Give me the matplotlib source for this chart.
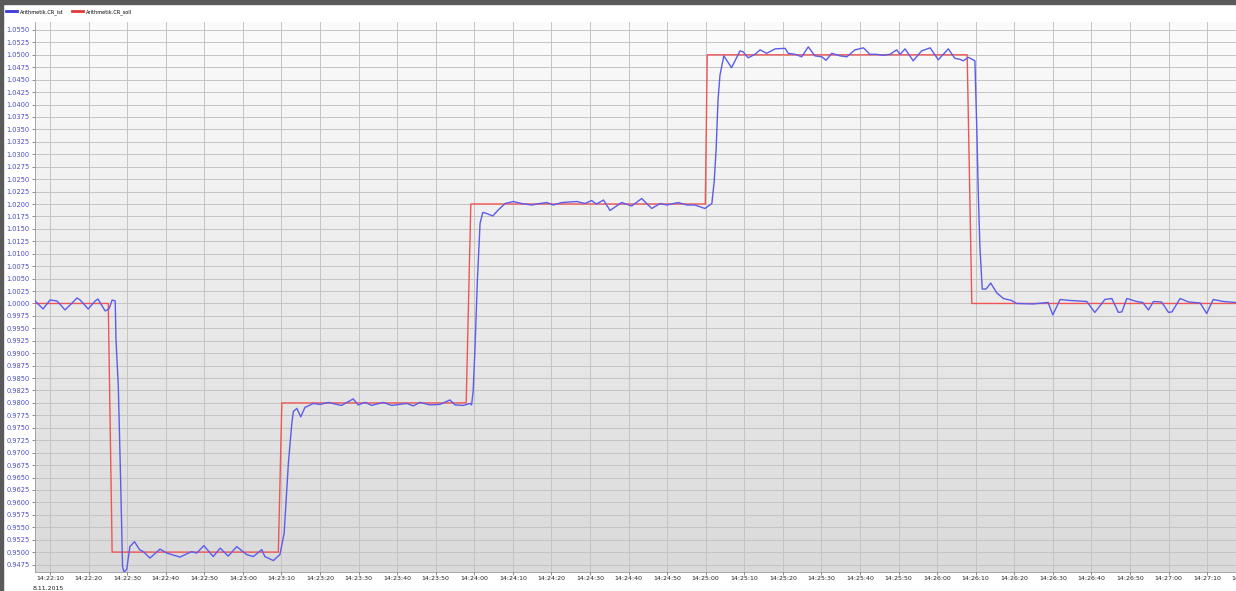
import numpy as np
import matplotlib
matplotlib.use("Agg")
import matplotlib.pyplot as plt
from matplotlib.lines import Line2D
from matplotlib.colors import LinearSegmentedColormap

# ---- data (seconds after 14:22:00) ----
ist_t = [6.1, 8.2, 10.0, 11.8, 13.9, 17.0, 17.8, 19.9, 21.7, 22.4, 24.3, 25.3, 26.1, 26.9,
         27.1, 27.7, 28.3, 28.8, 29.2, 29.9, 30.7, 31.9, 33.2, 34.2, 35.9, 38.5, 40.3, 43.7,
         46.7, 48.0, 49.9, 52.3, 54.1, 56.2, 58.4, 61.0, 62.7, 64.9, 65.7, 67.9, 69.6, 70.7,
         71.8, 72.7, 73.1, 74.0, 75.0, 76.1, 78.3, 80.0, 82.2, 84.3, 85.6, 88.6, 89.9, 91.7,
         93.4, 96.4, 98.6, 102.5, 104.2, 105.9, 108.5, 111.1, 113.7, 115.0, 117.2, 118.9,
         119.3, 119.7, 120.2, 120.8, 121.5, 122.2, 123.2, 124.8, 126.2, 128.0, 130.1, 132.3,
         134.9, 137.0, 138.8, 140.5, 142.7, 146.6, 148.7, 150.4, 151.7, 153.5, 155.2, 158.2,
         160.8, 163.4, 166.0, 168.2, 169.9, 172.9, 175.1, 177.2, 179.8, 181.6, 182.2, 182.7,
         183.2, 183.7, 184.7, 186.7, 188.9, 189.7, 191.0, 192.8, 194.1, 195.8, 198.0, 200.6,
         201.4, 203.2, 204.9, 206.6, 208.3, 210.1, 211.2, 212.7, 214.8, 216.6, 218.7, 220.9,
         222.6, 224.3, 226.1, 227.8, 229.5, 230.4, 231.7, 233.8, 236.0, 238.2, 240.3, 242.9,
         244.6, 245.9, 246.8, 248.1, 249.8, 250.3, 250.7, 251.1, 251.7, 252.7, 253.9, 255.5,
         257.2, 259.3, 260.6, 264.9, 268.8, 270.0, 271.9, 274.5, 278.8, 280.9, 283.5, 285.3,
         287.0, 287.9, 289.2, 291.7, 293.3, 294.8, 296.1, 298.2, 300.0, 300.9, 303.0, 305.2,
         308.2, 309.9, 311.6, 314.2, 317.5]
ist_v = [1.0005, 0.9989, 1.0007, 1.0005, 0.9987, 1.0011, 1.0007, 0.9989, 1.0005, 1.0009,
         0.9985, 0.9989, 1.0007, 1.0005, 0.9927, 0.9833, 0.9645, 0.9471, 0.9459, 0.9466,
         0.9511, 0.9521, 0.9505, 0.9501, 0.9488, 0.9506, 0.9498, 0.9490, 0.9501, 0.9498,
         0.9513, 0.9491, 0.9508, 0.9492, 0.9511, 0.9495, 0.9491, 0.9505, 0.9491, 0.9483,
         0.9495, 0.9538, 0.9679, 0.9760, 0.9783, 0.9789, 0.9772, 0.9791, 0.9799, 0.9797,
         0.9801, 0.9797, 0.9795, 0.9808, 0.9796, 0.9801, 0.9795, 0.9801, 0.9795, 0.9799,
         0.9794, 0.9801, 0.9796, 0.9797, 0.9806, 0.9796, 0.9795, 0.9799, 0.9796, 0.9823,
         0.9913, 1.0047, 1.0161, 1.0183, 1.0181, 1.0176, 1.0188, 1.0201, 1.0205, 1.0201,
         1.0198, 1.0201, 1.0203, 1.0198, 1.0203, 1.0205, 1.0201, 1.0207, 1.0200, 1.0208,
         1.0187, 1.0203, 1.0196, 1.0211, 1.0191, 1.0201, 1.0198, 1.0203, 1.0198, 1.0198,
         1.0191, 1.0201, 1.0245, 1.0309, 1.0409, 1.0459, 1.0498, 1.0474, 1.0508, 1.0506,
         1.0494, 1.0501, 1.0510, 1.0503, 1.0512, 1.0513, 1.0503, 1.0501, 1.0496, 1.0516,
         1.0498, 1.0496, 1.0489, 1.0503, 1.0498, 1.0496, 1.0510, 1.0514, 1.0501, 1.0501,
         1.0499, 1.0501, 1.0510, 1.0501, 1.0512, 1.0488, 1.0508, 1.0514, 1.0490, 1.0512,
         1.0493, 1.0491, 1.0488, 1.0495, 1.0488, 1.0349, 1.0215, 1.0114, 1.0029, 1.0029,
         1.0041, 1.0021, 1.0010, 1.0006, 1.0000, 0.9999, 1.0002, 0.9977, 1.0008, 1.0006,
         1.0004, 0.9982, 1.0008, 1.0010, 0.9982, 0.9983, 1.0010, 1.0004, 1.0002, 0.9987,
         1.0004, 1.0003, 0.9982, 0.9983, 1.0010, 1.0003, 1.0001, 0.9980, 1.0008, 1.0004,
         1.0002]

soll_t = [5.0, 25.1, 26.1, 69.2, 70.1, 117.9, 119.1, 179.9, 180.4, 247.8, 249.0, 318.0]
soll_v = [1.00, 1.00, 0.95, 0.95, 0.98, 0.98, 1.02, 1.02, 1.05, 1.05, 1.00, 1.00]

x_tick_pos = list(range(10, 311, 10))
x_tick_labels = ["14:22:10", "14:22:20", "14:22:30", "14:22:40", "14:22:50", "14:23:00",
                 "14:23:10", "14:23:20", "14:23:30", "14:23:40", "14:23:50", "14:24:00",
                 "14:24:10", "14:24:20", "14:24:30", "14:24:40", "14:24:50", "14:25:00",
                 "14:25:10", "14:25:20", "14:25:30", "14:25:40", "14:25:50", "14:26:00",
                 "14:26:10", "14:26:20", "14:26:30", "14:26:40", "14:26:50", "14:27:00",
                 "14:27:10"]
last_tick_label = "14:27:20"
date_label = "8.11.2015"
series_names = ["Arithmetik.CR_ist", "Arithmetik.CR_soll"]

# ---- figure ----
W, H = 1236, 591
fig = plt.figure(figsize=(W / 100, H / 100), dpi=100)
fig.patch.set_facecolor("white")
ax = fig.add_axes([35 / W, 1 - 572 / H, (W - 35) / W, (572 - 22) / H])

# gradient background
grad = np.linspace(0, 1, 256).reshape(-1, 1)
cmap = LinearSegmentedColormap.from_list("bg", ["#fbfbfb", "#dadada"])
ax.imshow(grad, cmap=cmap, aspect="auto", extent=[0, 1, 0, 1],
          transform=ax.transAxes, zorder=0)

FS = 4.5
yt = np.round(np.arange(0.9475, 1.05501, 0.0025), 4)
ax.set_yticks(yt)
ax.set_yticklabels([f"{v:.4f}" for v in yt], fontsize=4.8, color="#4a4ad0")
ax.set_xticks(x_tick_pos)
ax.set_xticklabels(x_tick_labels, fontsize=FS, color="#222222")
ax.tick_params(axis="y", length=2.5, width=0.6, color="#777777", pad=1.5)
ax.tick_params(axis="x", length=2, width=0.6, color="#777777", pad=0.8)

xmin, xmax = 6.1, 317.5
ymin, ymax = 0.94600, 1.05660
ax.set_xlim(xmin, xmax)
ax.set_ylim(ymin, ymax)

ax.grid(True, color="#c4c4c4", linewidth=0.7, zorder=1)
ax.set_axisbelow(False)

ax.plot(soll_t, soll_v, color="#f05555", linewidth=1.0, zorder=3)
ax.plot(ist_t, ist_v, color="#5c5cea", linewidth=1.0, zorder=4)

for s in ["top", "right"]:
    ax.spines[s].set_visible(False)
ax.spines["left"].set_color("#9a9a9a")
ax.spines["bottom"].set_color("#9a9a9a")
ax.spines["left"].set_linewidth(0.6)
ax.spines["bottom"].set_linewidth(0.6)

# last tick label partly cut by the image edge, as in the source screenshot
ax.text(320, -0.0065, last_tick_label, transform=ax.get_xaxis_transform(),
        fontsize=FS, color="#222222", ha="center", va="top", clip_on=False)

fig.text(33 / W, 1 - 590.5 / H, date_label, fontsize=FS, color="#222222",
         va="bottom", ha="left")

# legend above plot
handles = [Line2D([0], [0], color="#3a3ad8", lw=2),
           Line2D([0], [0], color="#e03a3a", lw=2)]
fig.legend(handles, series_names, loc="upper left", bbox_to_anchor=(6 / W, 1 - 9 / H),
           ncol=2, frameon=False, fontsize=3.6, handlelength=2.2, handletextpad=0.5,
           columnspacing=1.8, borderaxespad=0, borderpad=0)

# window frame
fig.add_artist(plt.Rectangle((0, 1 - 4 / H), 1, 4 / H, transform=fig.transFigure,
                             color="#5a5a5a", zorder=10))
fig.add_artist(plt.Rectangle((0, 0), 3 / W, 1, transform=fig.transFigure,
                             color="#5a5a5a", zorder=10))

fig.savefig("out.png", dpi=100)
